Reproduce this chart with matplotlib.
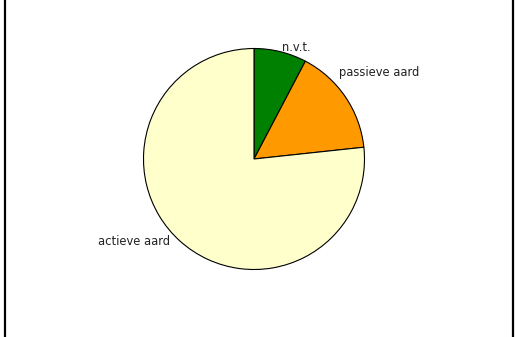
import numpy as np
import matplotlib.pyplot as plt
from matplotlib.lines import Line2D

# Data (shares, in %)
labels = ["n.v.t.", "passieve aard", "actieve aard"]
values = [7.7, 15.6, 76.7]
colors = ["#008000", "#FF9900", "#FFFFCC"]

fig = plt.figure(figsize=(5.15, 3.37), dpi=100)
ax = fig.add_axes([0, 0, 1, 1])

wedges, texts = ax.pie(values, labels=labels, colors=colors, startangle=90,
                       counterclock=False, labeldistance=1.05,
                       wedgeprops=dict(edgecolor="black", linewidth=0.8),
                       textprops=dict(fontsize=8.3, color="#222222"))

# label spots as in the original
texts[0].set_position((0.255, 1.01))
texts[1].set_position((0.77, 0.78))
texts[1].set_ha("left")
texts[2].set_position((-0.76, -0.75))
texts[2].set_ha("right")

# one unit = 110.5 px, centre at (254, 159) px
s = 110.5
ax.set_xlim(-254 / s, (515 - 254) / s)
ax.set_ylim(-(337 - 159) / s, 159 / s)
ax.set_aspect("auto")
ax.axis("off")

# frame lines left and right
for xp in (5, 512.5):
    fig.add_artist(Line2D([xp / 515, xp / 515], [0, 1], color="black", linewidth=1.6))

fig.savefig("out.png", dpi=100)
